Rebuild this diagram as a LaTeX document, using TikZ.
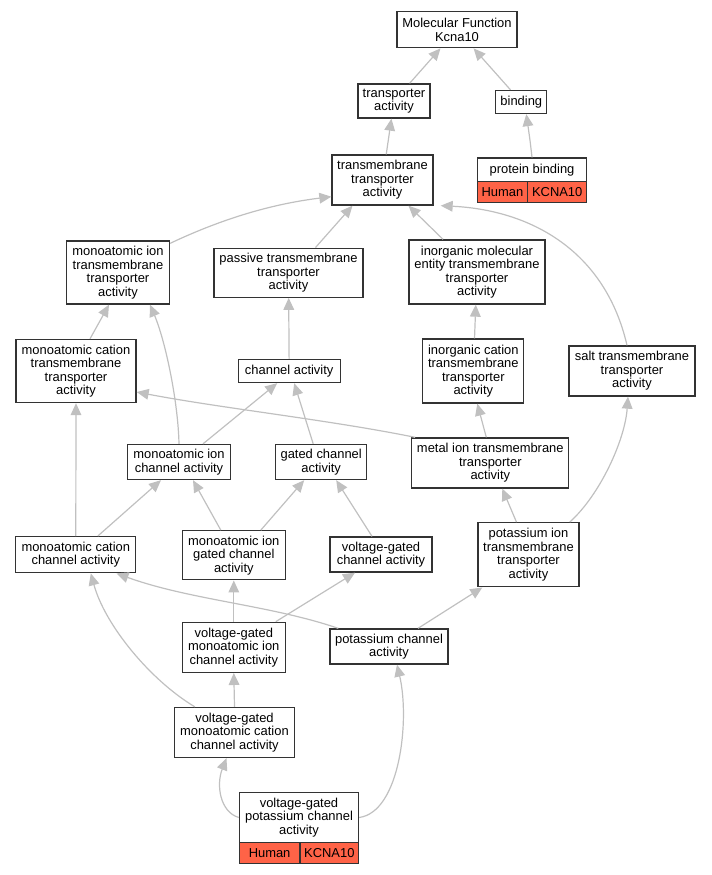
\documentclass[tikz,border=0pt]{standalone}
\usepackage{fontspec}
\setmainfont{Liberation Sans}
\usetikzlibrary{arrows.meta,calc}
\definecolor{edgec}{HTML}{C0C0C0}
\definecolor{boxc}{HTML}{333333}
\definecolor{genec}{HTML}{FF6347}
\begin{document}
\begin{tikzpicture}[x=0.75pt,y=-0.75pt,
  bx/.style 2 args={draw=boxc, line width=1pt, fill=white, align=center,
    font=\fontsize{9.7}{10.1}\selectfont, inner sep=0.5pt,
    minimum width=#1*0.75pt, minimum height=#2*0.75pt},
  gene/.style 2 args={bx={#1}{#2}, fill=genec},
  edge/.style={draw=edgec, line width=0.9pt,
    -{Triangle[width=8pt,length=9pt,fill=edgec]}}]
\useasboundingbox (0,0) rectangle (711,875);
% nodes
\node[bx={120}{36}] (mf) at (457,29.7) {Molecular Function\\Kcna10};
\node[bx={72}{34}] (tr) at (394,101) {transporter\\activity};
\node[bx={51}{23}] (bd) at (521.3,102) {binding};
\node[bx={109}{24}] (pb) at (532,170) {protein binding};
\node[gene={50.5}{21}] (pbH) at (502.5,192.2) {Human};
\node[gene={59}{21}] (pbK) at (557.2,192.2) {KCNA10};
\node[bx={101}{50}] (tm) at (382.5,180) {transmembrane\\transporter\\activity};
\node[bx={103}{63}] (mit) at (118,272.5) {monoatomic ion\\transmembrane\\transporter\\activity};
\node[bx={149}{49}] (ptm) at (288.5,272.7) {passive transmembrane\\transporter\\activity};
\node[bx={136}{64}] (imt) at (477,272) {inorganic molecular\\entity transmembrane\\transporter\\activity};
\node[bx={120}{63}] (mct) at (76,371) {monoatomic cation\\transmembrane\\transporter\\activity};
\node[bx={102}{23}] (ca) at (289.2,371) {channel activity};
\node[bx={101}{64}] (ict) at (473.3,371) {inorganic cation\\transmembrane\\transporter\\activity};
\node[bx={126}{50}] (stm) at (632,371) {salt transmembrane\\transporter\\activity};
\node[bx={103}{35}] (mic) at (179,462) {monoatomic ion\\channel activity};
\node[bx={91}{35}] (gca) at (321.2,462) {gated channel\\activity};
\node[bx={157}{50}] (mitm) at (490.3,463) {metal ion transmembrane\\transporter\\activity};
\node[bx={120}{36}] (mcc) at (75.8,554.7) {monoatomic cation\\channel activity};
\node[bx={103}{49}] (mig) at (233.8,555.3) {monoatomic ion\\gated channel\\activity};
\node[bx={102}{35}] (vgc) at (381,554.5) {voltage-gated\\channel activity};
\node[bx={101}{64}] (pit) at (528.5,554.8) {potassium ion\\transmembrane\\transporter\\activity};
\node[bx={103}{50}] (vgi) at (233.8,647.3) {voltage-gated\\monoatomic ion\\channel activity};
\node[bx={118}{35}] (pc) at (389,646.5) {potassium channel\\activity};
\node[bx={120}{50}] (vgm) at (234.5,732.5) {voltage-gated\\monoatomic cation\\channel activity};
\node[bx={119}{50}] (vgp) at (299,817.5) {voltage-gated\\potassium channel\\activity};
\node[gene={60.7}{21}] (vgpH) at (269.6,852.8) {Human};
\node[gene={58.7}{21}] (vgpK) at (329.3,852.8) {KCNA10};
% edges
\draw[edge] (tr) -- (mf);
\draw[edge] (bd) -- (mf);
\draw[edge] (pb.north) .. controls (530,140) .. ($(bd.south)+(5,0)$);
\draw[edge] (tm) -- (tr);
\draw[edge] ($(mit.north east)+(0,3)$) .. controls (230,215) and (280,203) .. ($(tm.south west)+(0,-9)$);
\draw[edge] ($(ptm.north)+(27,0)$) -- ($(tm.south)+(-30,0)$);
\draw[edge] ($(imt.north)+(-34,0)$) -- ($(tm.south)+(26,0)$);
\draw[edge] ($(stm.north)+(-5,0)$) .. controls (605,250) and (530,210) .. ($(tm.south east)+(7,0)$);
\draw[edge] ($(mct.north)+(14,0)$) -- ($(mit.south)+(-9,0)$);
\draw[edge] (ca) -- (ptm);
\draw[edge] (ict) -- (imt);
\draw[edge] (mic.north) .. controls (178,400) and (165,340) .. ($(mit.south)+(32,0)$);
\draw[edge] ($(mic.north)+(24,0)$) -- ($(ca.south)+(-12,0)$);
\draw[edge] ($(gca.north)+(-8,0)$) -- ($(ca.south)+(5,0)$);
\draw[edge] ($(mitm.north west)+(4,0)$) .. controls (330,420) and (220,408) .. ($(mct.east)+(0,21)$);
\draw[edge] ($(mitm.north)+(-4,0)$) -- ($(ict.south)+(4,0)$);
\draw[edge] (mcc.north) -- (mct.south);
\draw[edge] ($(mcc.north)+(22,0)$) -- ($(mic.south)+(-18,0)$);
\draw[edge] ($(mig.north)+(-13,0)$) -- ($(mic.south)+(14,0)$);
\draw[edge] ($(mig.north)+(27,0)$) -- ($(gca.south)+(-17,0)$);
\draw[edge] ($(vgc.north)+(-9,0)$) -- ($(gca.south)+(15,0)$);
\draw[edge] ($(pit.north)+(-12,0)$) -- ($(mitm.south)+(12,0)$);
\draw[edge] ($(pit.north east)+(-10,0)$) .. controls (600,495) and (625,440) .. ($(stm.south)+(-4,0)$);
\draw[edge] (vgi.north) -- (mig.south);
\draw[edge] ($(vgi.north)+(42,0)$) -- ($(vgc.south)+(-26,0)$);
\draw[edge] ($(pc.north west)+(9,0)$) .. controls (270,605) and (190,600) .. ($(mcc.south east)+(-20,0)$);
\draw[edge] ($(pc.north)+(29,0)$) -- ($(pit.south west)+(5,0)$);
\draw[edge] (vgm.north) -- (vgi.south);
\draw[edge] ($(vgm.north west)+(21,0)$) .. controls (150,680) and (105,625) .. ($(mcc.south)+(15,0)$);
\draw[edge] (vgp.west) .. controls (220,812) and (216,785) .. ($(vgm.south)+(-8,0)$);
\draw[edge] (vgp.east) .. controls (400,812) and (410,720) .. ($(pc.south)+(8,0)$);
\end{tikzpicture}
\end{document}
